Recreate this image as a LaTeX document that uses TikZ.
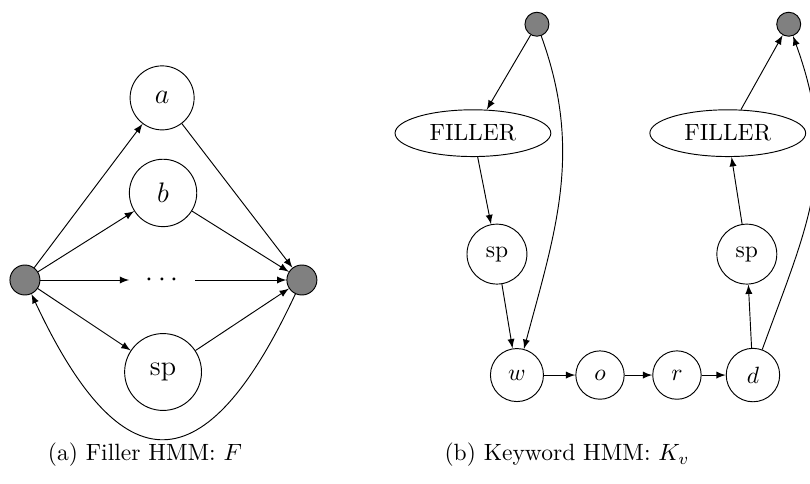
\documentclass[tikz,border=0pt]{standalone}
\usepackage{xcolor}
\usepackage{tikz}
\usetikzlibrary{arrows,positioning,shapes.geometric}

\begin{document}
\begin{tikzpicture}[on grid, >=latex]
    \tikzstyle{terminal} = [circle, draw, fill=gray, inner sep=0pt, minimum size=10.2pt]
    \tikzstyle{bigterminal} = [terminal, minimum size=12.75pt]
    \tikzstyle{state} = [circle, draw, inner sep=5pt]
    \tikzstyle{bigstate} = [circle, draw, inner sep=6.8pt, font=\large]
    \tikzstyle{filler} = [ellipse, draw, inner xsep=5pt, inner ysep=3.5pt]
    \tikzstyle{edge} = [->]

    \useasboundingbox (0,0) rectangle (344.25pt,-205.3pt);

    % Filler HMM
    \node [bigterminal] (ini) at (10.6pt,-119pt) {};
    \node [bigterminal, right=117.7pt of ini] (fin) {};
    \node [inner sep=6.8pt, font=\large, right=58.3pt of ini] (dots) {$\cdots$};
    \node [bigstate, above=77.4pt of dots] (a) {$a$};
    \node [bigstate, above=37pt of dots, xshift=0.4pt] (b) {$b$};
    \node [bigstate, below=39.1pt of dots, xshift=0.4pt] (sp) {sp};

    \draw[edge] (ini) -- (a);
    \draw[edge] (ini) -- (b);
    \draw[edge] (ini) -- (dots);
    \draw[edge] (ini) -- (sp);
    \draw[edge] (a) -- (fin);
    \draw[edge] (b) -- (fin);
    \draw[edge] (dots) -- (fin);
    \draw[edge] (sp) -- (fin);
    \draw[edge] (fin) to[out=-115, in=-65, looseness=2.07] (ini);

    % Keyword HMM
    \node [state] (w) at (219.7pt,-159.4pt) {$w$};
    \node [state, right=35.3pt of w] (o) {$o$};
    \node [state, right=32.7pt of o] (r) {$r$};
    \node [state, right=32.3pt of r] (d) {$d$};
    \node [state, above left=51.4pt and 8.5pt of w] (spl) {sp};
    \node [filler, above left=51.4pt and 10.2pt of spl] (fill1) {FILLER};
    \node [terminal, above right=46.3pt and 27.2pt of fill1] (start) {};
    \node [state, above left=51.4pt and 2.6pt of d] (spr) {sp};
    \node [filler, above left=51.4pt and 8.1pt of spr] (fill2) {FILLER};
    \node [terminal, above right=46.3pt and 25.9pt of fill2] (stop) {};

    \draw[edge] (start) -- (fill1);
    \draw[edge] (start) to[out=-70, in=75] (w);
    \draw[edge] (fill1) -- (spl);
    \draw[edge] (spl) -- (w);
    \draw[edge] (w) -- (o);
    \draw[edge] (o) -- (r);
    \draw[edge] (r) -- (d);
    \draw[edge] (d) -- (spr);
    \draw[edge] (spr) -- (fill2);
    \draw[edge] (fill2) -- (stop);
    \draw[edge] (d) to[out=70, in=-70, looseness=1.1] (stop);

    % Captions
    \node [below=35.3pt of sp, xshift=-7.7pt] (capa) {(a) Filler HMM: $F$};
    \node [below right=34pt and 21.3pt of w] (capb) {(b) Keyword HMM: $K_v$};

\end{tikzpicture}
\end{document}
